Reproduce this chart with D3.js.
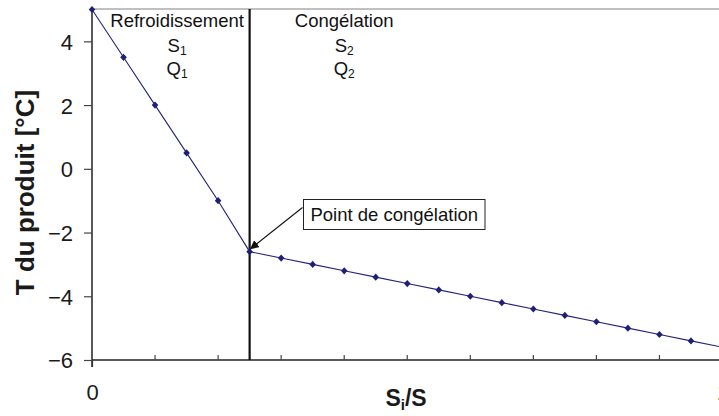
<!DOCTYPE html>
<html><head><meta charset="utf-8">
<script src="https://cdn.jsdelivr.net/npm/d3@7"></script>
<style>html,body{margin:0;padding:0;background:#fff;}svg{display:block;font-family:Arial,"Liberation Sans",sans-serif;}</style>
</head><body>
<svg id="chart" width="719" height="416"></svg>
<script>
const ratios = [0, 0.05, 0.1, 0.15, 0.2, 0.25, 0.3, 0.35, 0.4, 0.45, 0.5, 0.55, 0.6, 0.65, 0.7, 0.75, 0.8, 0.85, 0.9, 0.95, 1];
const temps = [5, 3.5, 2, 0.5, -1, -2.6, -2.8, -3.0, -3.2, -3.4, -3.6, -3.8, -4.0, -4.2, -4.4, -4.6, -4.8, -5.0, -5.2, -5.4, -5.6];
const yTicks = [-6, -4, -2, 0, 2, 4];
const xLabelTicks = [0, 1];
const xMinorTicks = [0.1, 0.2, 0.3, 0.4, 0.5, 0.6, 0.7, 0.8, 0.9];
const freezeRatio = 0.25;
const freezeTemp = -2.6;
const phases = [
  {x: 0.135, lines: ["Refroidissement", "S", "Q"], sub: "1"},
  {x: 0.4, lines: ["Congélation", "S", "Q"], sub: "2"}
];
const freezeLabel = "Point de congélation";

const svg = d3.select("#chart");
const L = 92, R = 722.5, T = 9.5, B = 360;
const x = d3.scaleLinear().domain([0, 1]).range([L, R]);
const y = d3.scaleLinear().domain([-6, 5]).range([B, T]);

// plot border (top/right)
svg.append("path").attr("d", `M${L},${T-0.5}H${R}V${B}`).attr("fill", "none").attr("stroke", "#808080").attr("stroke-width", 1);

// y axis
const yAxis = d3.axisLeft(y).tickValues(yTicks).tickSize(8).tickPadding(11).tickFormat(d3.format("d"));
const gy = svg.append("g").attr("transform", `translate(${L},0)`).call(yAxis);
gy.select(".domain").attr("d", `M0,${T-0.5}V${B+7}`).attr("stroke", "#222").attr("stroke-width", 1.5);
gy.selectAll(".tick line").attr("stroke", "#444").attr("stroke-width", 1.2);
gy.selectAll(".tick text").attr("font-size", 22).attr("fill", "#1a1a1a").attr("font-family", "Arial, 'Liberation Sans', sans-serif").attr("dy", "0.36em");

// x axis
const xAxis = d3.axisBottom(x).tickValues(xLabelTicks).tickSize(7).tickPadding(17).tickFormat(d3.format("d"));
const gx = svg.append("g").attr("transform", `translate(0,${B})`).call(xAxis);
gx.select(".domain").attr("d", `M${L},0H${R}`).attr("stroke", "#222").attr("stroke-width", 1.5);
gx.selectAll(".tick line").attr("stroke", "#333").attr("stroke-width", 1.2);
gx.selectAll(".tick text").attr("font-size", 22).attr("fill", "#1a1a1a").attr("font-family", "Arial, 'Liberation Sans', sans-serif");
gx.selectAll(".minor").data(xMinorTicks).enter().append("line")
  .attr("x1", d => x(d)).attr("x2", d => x(d)).attr("y1", 0).attr("y2", -5)
  .attr("stroke", "#444").attr("stroke-width", 1.2);

// freeze vertical line
svg.append("line").attr("x1", x(freezeRatio)).attr("x2", x(freezeRatio)).attr("y1", T - 0.5).attr("y2", B)
  .attr("stroke", "#111").attr("stroke-width", 2.2);

// series line
const pts = ratios.map((r, i) => [r, temps[i]]);
svg.append("path").datum(pts)
  .attr("d", d3.line().x(d => x(d[0])).y(d => y(d[1])))
  .attr("fill", "none").attr("stroke", "#23237e").attr("stroke-width", 1.1);
svg.selectAll(".pt").data(pts).enter().append("path")
  .attr("transform", d => `translate(${x(d[0])},${y(d[1])})`)
  .attr("d", "M0,-3.6L3.3,0L0,3.6L-3.3,0Z")
  .attr("fill", "#1f1f78");

// phase annotations
phases.forEach(p => {
  const g = svg.append("g").attr("font-size", 18.5).attr("fill", "#111").attr("text-anchor", "middle");
  g.append("text").attr("x", x(p.x)).attr("y", 27).text(p.lines[0]);
  [p.lines[1], p.lines[2]].forEach((s, k) => {
    const t = g.append("text").attr("x", x(p.x)).attr("y", k === 0 ? 52 : 75);
    t.append("tspan").text(s);
    t.append("tspan").attr("font-size", 12).attr("dy", 3).text(p.sub);
  });
});

// freeze point callout
const bx = 303.5, byTop = 199.5, bw = 181.5, bh = 30;
svg.append("defs").append("marker").attr("id", "arr").attr("viewBox", "0 0 10 10").attr("refX", 9).attr("refY", 5)
  .attr("markerWidth", 9).attr("markerHeight", 9).attr("markerUnits", "userSpaceOnUse").attr("orient", "auto")
  .append("path").attr("d", "M0,0L10,5L0,10Z").attr("fill", "#111");
svg.append("line").attr("x1", bx - 1).attr("y1", byTop + 8).attr("x2", x(freezeRatio) + 1).attr("y2", y(freezeTemp) - 3)
  .attr("stroke", "#111").attr("stroke-width", 1.1).attr("marker-end", "url(#arr)");
svg.append("rect").attr("x", bx).attr("y", byTop).attr("width", bw).attr("height", bh)
  .attr("fill", "#fff").attr("stroke", "#222").attr("stroke-width", 1);
svg.append("text").attr("x", bx + bw / 2).attr("y", byTop + 21).attr("text-anchor", "middle")
  .attr("font-size", 18.5).attr("fill", "#111").text(freezeLabel);

// axis titles
svg.append("text").attr("transform", "translate(34,192.5) rotate(-90)").attr("text-anchor", "middle")
  .attr("font-size", 26).attr("font-weight", "bold").attr("fill", "#1a1a1a").text("T du produit [°C]");
const xt = svg.append("text").attr("x", 406).attr("y", 406).attr("text-anchor", "middle")
  .attr("font-size", 23).attr("font-weight", "bold").attr("fill", "#1a1a1a");
xt.append("tspan").text("S");
xt.append("tspan").attr("font-size", 15).attr("dy", 4).text("i");
xt.append("tspan").attr("dy", -4).text("/S");
</script>
</body></html>
